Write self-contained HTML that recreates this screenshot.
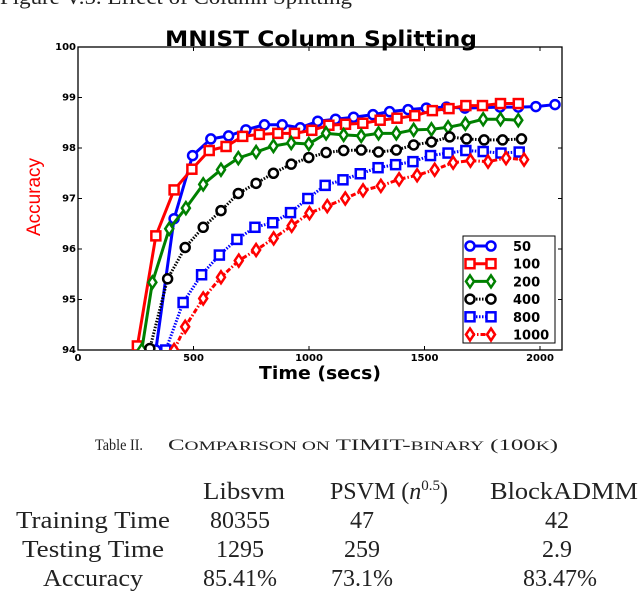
<!DOCTYPE html>
<html><head><meta charset="utf-8"><style>
html,body{margin:0;padding:0;background:#fff;width:640px;height:592px;overflow:hidden}
svg{display:block}
.serif{font-family:"Liberation Serif",serif}
.sans{font-family:"DejaVu Sans","Liberation Sans",sans-serif}
</style></head><body>
<svg id="chart" width="640" height="592" viewBox="0 0 640 592" xmlns="http://www.w3.org/2000/svg">
<text class="serif" x="0" y="4" font-size="21" fill="#222" textLength="352" lengthAdjust="spacingAndGlyphs">Figure V.5.    Effect of Column Splitting</text>
<text class="sans" x="321" y="46" font-size="21" font-weight="bold" text-anchor="middle" textLength="312" lengthAdjust="spacingAndGlyphs">MNIST Column Splitting</text>
<text font-family="Liberation Sans,sans-serif" font-size="19" fill="#f00" text-anchor="middle" transform="translate(40,197) rotate(-90)" textLength="78" lengthAdjust="spacingAndGlyphs">Accuracy</text>
<text class="sans" x="320" y="379" font-size="18" font-weight="bold" text-anchor="middle" textLength="122" lengthAdjust="spacingAndGlyphs">Time (secs)</text>
<g id="axes"></g>
<g id="series"></g>
<g id="legend"></g>
<text class="serif" x="95" y="450" font-size="16" fill="#222" textLength="48" lengthAdjust="spacingAndGlyphs">Table II.</text>
<text class="serif" x="168" y="450" font-size="16" fill="#222" textLength="390" lengthAdjust="spacingAndGlyphs">C<tspan font-size="12.5">OMPARISON ON</tspan> TIMIT-<tspan font-size="12.5">BINARY</tspan> (100<tspan font-size="12.5">K</tspan>)</text>
<g class="serif" font-size="24" fill="#222">
<text x="244" y="499" text-anchor="middle" textLength="82" lengthAdjust="spacingAndGlyphs">Libsvm</text>
<text x="389" y="499" text-anchor="middle">PSVM (<tspan font-style="italic">n</tspan><tspan font-size="15" dy="-9">0.5</tspan><tspan dy="9">)</tspan></text>
<text x="564" y="499" text-anchor="middle" textLength="148" lengthAdjust="spacingAndGlyphs">BlockADMM</text>
<text x="170" y="528" text-anchor="end" textLength="154" lengthAdjust="spacingAndGlyphs">Training Time</text>
<text x="240" y="528" text-anchor="middle">80355</text>
<text x="362" y="528" text-anchor="middle">47</text>
<text x="557" y="528" text-anchor="middle">42</text>
<text x="164" y="557" text-anchor="end" textLength="142" lengthAdjust="spacingAndGlyphs">Testing Time</text>
<text x="240" y="557" text-anchor="middle">1295</text>
<text x="362" y="557" text-anchor="middle">259</text>
<text x="557" y="557" text-anchor="middle">2.9</text>
<text x="143" y="586" text-anchor="end" textLength="100" lengthAdjust="spacingAndGlyphs">Accuracy</text>
<text x="240" y="586" text-anchor="middle">85.41%</text>
<text x="362" y="586" text-anchor="middle">73.1%</text>
<text x="560" y="586" text-anchor="middle">83.47%</text>
</g>
</svg>
<script>
const xTicks=[0,500,1000,1500,2000];
const yTicks=[94,95,96,97,98,99,100];
const seriesNames=["50","100","200","400","800","1000"];
const x50=[337,416,496,575,652,727,807,884,962,1038,1115,1193,1277,1349,1429,1508,1595,1675,1827,1906,1982,2065];
const y50=[94,96.6,97.85,98.18,98.24,98.36,98.46,98.46,98.4,98.53,98.57,98.61,98.66,98.72,98.76,98.79,98.81,98.79,98.81,98.81,98.82,98.86];
const x100=[257,337,416,493,568,641,713,785,865,937,1012,1086,1158,1233,1308,1381,1458,1534,1606,1679,1751,1829,1906];
const y100=[94.08,96.26,97.17,97.58,97.95,98.03,98.23,98.27,98.29,98.29,98.35,98.45,98.47,98.49,98.55,98.59,98.64,98.74,98.78,98.84,98.84,98.88,98.88];
const x200=[276,322,395,467,542,619,694,771,846,923,999,1074,1150,1226,1301,1378,1453,1530,1602,1677,1754,1829,1906];
const y200=[94,95.34,96.4,96.81,97.28,97.57,97.8,97.92,98.04,98.1,98.08,98.29,98.26,98.24,98.29,98.29,98.36,98.37,98.41,98.48,98.57,98.57,98.55];
const x400=[311,388,464,542,619,694,771,846,923,999,1074,1150,1226,1301,1378,1453,1530,1609,1682,1758,1838,1920];
const y400=[94.03,95.41,96.03,96.43,96.76,97.1,97.3,97.5,97.68,97.81,97.91,97.95,97.96,97.92,97.96,98.06,98.12,98.22,98.18,98.16,98.16,98.18];
const x800=[380,455,535,612,688,766,843,920,995,1070,1147,1222,1299,1375,1450,1526,1602,1679,1754,1831,1910];
const y800=[94,94.94,95.49,95.88,96.19,96.43,96.52,96.72,97.0,97.26,97.37,97.49,97.61,97.67,97.73,97.85,97.9,97.95,97.93,97.9,97.92];
const x1000=[416,464,542,619,696,771,847,925,1002,1079,1157,1234,1311,1390,1468,1544,1624,1699,1775,1853,1931];
const y1000=[94,94.46,95.02,95.44,95.77,95.98,96.21,96.46,96.71,96.85,97.0,97.16,97.25,97.38,97.46,97.57,97.71,97.75,97.73,97.8,97.77];

const NS="http://www.w3.org/2000/svg";
const L=78,R=562,T=47,B=350;
const sx=v=>L+v*(540-L)/2000;
const sy=v=>B-(v-94)*(B-T)/6;
function mk(tag,attrs,parent){const e=document.createElementNS(NS,tag);for(const k in attrs)e.setAttribute(k,attrs[k]);parent.appendChild(e);return e;}
const axes=document.getElementById('axes');
const frame=mk('rect',{x:L,y:T,width:R-L,height:B-T,fill:'none',stroke:'#000','stroke-width':1.3},axes);


xTicks.forEach(t=>{
  const x=sx(t);
  const a=mk('line',{x1:x,x2:x,y1:B,y2:B-4,stroke:'#000'},axes);
  
  
  mk('line',{x1:x,x2:x,y1:T,y2:T+4,stroke:'#000'},axes);
  const lb=mk('text',{x:x,y:B+11,'font-size':10,'font-weight':'bold','text-anchor':'middle','font-family':'DejaVu Sans,sans-serif'},axes);
  lb.textContent=t;
  
  
});
yTicks.forEach(t=>{
  const y=sy(t);
  const a=mk('line',{x1:L,x2:L+4,y1:y,y2:y,stroke:'#000'},axes);
  
  
  mk('line',{x1:R,x2:R-4,y1:y,y2:y,stroke:'#000'},axes);
  const lb=mk('text',{x:L-2,y:y+3,'font-size':10,'font-weight':'bold','text-anchor':'end','font-family':'DejaVu Sans,sans-serif'},axes);
  lb.textContent=t;
  
  
});
const styles=[
 {c:'#0000ff',d:'',m:'o'},{c:'#ff0000',d:'',m:'s'},{c:'#008000',d:'',m:'d'},
 {c:'#000000',d:'1.5 1.5',m:'o'},{c:'#0000ff',d:'1.5 1.5',m:'s'},{c:'#ff0000',d:'5 2 1.5 2',m:'d'}];
const xs=[x50,x100,x200,x400,x800,x1000], ys=[y50,y100,y200,y400,y800,y1000];
function marker(g,m,x,y,c){
  let e;
  if(m==='o') e=mk('circle',{cx:x,cy:y,r:4.5},g);
  else if(m==='s') e=mk('rect',{x:x-4.5,y:y-4.5,width:9,height:9},g);
  else e=mk('polygon',{points:`${x},${y-6} ${x+4},${y} ${x},${y+6} ${x-4},${y}`},g);
  e.setAttribute('fill','#fff');e.setAttribute('stroke',c);e.setAttribute('stroke-width',2.5);
  return e;
}
const sg=document.getElementById('series');
const clip=mk('clipPath',{id:'pc'},sg);mk('rect',{x:L,y:T-10,width:R-L,height:B-T+10},clip);
seriesNames.forEach((n,i)=>{
  const st=styles[i];
  const g=mk('g',{'clip-path':'url(#pc)'},sg);
  
  
  const pts=xs[i].map((v,j)=>sx(v)+','+sy(ys[i][j])).join(' ');
  const pl=mk('polyline',{points:pts,fill:'none',stroke:st.c,'stroke-width':3,'stroke-dasharray':st.d},g);
  
  
  xs[i].forEach((v,j)=>{
    const e=marker(g,st.m,sx(v),sy(ys[i][j]),st.c);
    
    
  });
});
const lg=document.getElementById('legend');


mk('rect',{x:463,y:236,width:92,height:107,fill:'#fff',stroke:'#000','stroke-width':1},lg);
seriesNames.forEach((n,i)=>{
  const st=styles[i];const y=246+i*17.7;
  const g=mk('g',{},lg);
  
  
  mk('line',{x1:470,x2:491,y1:y,y2:y,stroke:st.c,'stroke-width':3,'stroke-dasharray':st.d},g);
  marker(g,st.m,470,y,st.c);marker(g,st.m,491,y,st.c);
  const t=mk('text',{x:513,y:y+5,'font-size':13,'font-weight':'bold','font-family':'DejaVu Sans,sans-serif'},g);
  t.textContent=n;
});
</script>
</body></html>
